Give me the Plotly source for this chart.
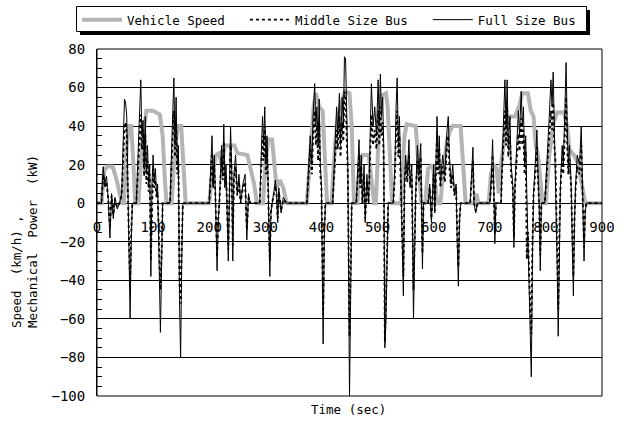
import plotly.graph_objects as go

# ---------------- data ----------------
speed_time = [0, 8, 13, 18, 28, 35, 42, 45, 48, 53, 57, 61, 65, 68, 74, 80, 88, 100, 112, 117, 121, 124,
              133, 138, 144, 150, 154, 158, 200, 205, 212, 218, 222, 228, 245, 250, 268, 274, 280, 285,
              296, 300, 305, 312, 317, 320, 326, 332, 338, 374, 380, 386, 390, 396, 402, 406, 410,
              418, 424, 430, 436, 442, 450, 454, 458, 464, 468, 473, 484, 490, 494, 497, 502, 508, 515,
              518, 522, 526, 542, 548, 552, 568, 573, 578, 585, 590, 598, 603, 606, 612, 618, 624, 630,
              634, 648, 653, 657, 672, 676, 680, 698, 702, 707, 712, 716, 720, 728, 735, 745, 752, 758,
              768, 773, 778, 782, 786, 790, 794, 800, 806, 814, 820, 832, 838, 842, 850, 858, 864, 870, 900]
vehicle_speed = [0, 0, 17, 19, 19, 12, 3, 0, 0, 30, 40, 40, 20, 0, 0, 30, 48, 48, 46, 35, 12, 0,
                 0, 25, 40, 40, 20, 0, 0, 15, 25, 26, 20, 30, 30, 26, 25, 18, 10, 0,
                 0, 20, 33, 33, 15, 8, 12, 8, 0, 0, 25, 50, 57, 50, 48, 20, 0,
                 0, 30, 47, 52, 58, 57, 40, 0, 0, 20, 25, 25, 10, 0, 0, 35, 56, 57,
                 50, 25, 0, 0, 35, 41, 40, 20, 0, 0, 18, 20, 10, 0, 0, 20, 33, 38,
                 40, 40, 20, 0, 0, 5, 0, 0, 15, 20, 18, 5, 20, 38, 45, 45, 50, 57,
                 57, 48, 45, 30, 25, 10, 0, 0, 25, 42, 47, 47, 40, 28, 25, 20, 10, 0, 0]

power_time = [0, 8, 11, 14, 17, 20, 23, 26, 29, 32, 36, 40, 44, 47, 49, 51, 53, 55, 57, 59, 61, 63,
              70, 74, 76, 78, 80, 82, 84, 86, 88, 90, 92, 94, 96, 98, 100, 102, 104, 106, 108, 111, 113,
              115, 117, 130, 133, 135, 137, 139, 141, 143, 145, 147, 149, 151, 153,
              200, 203, 205, 207, 209, 211, 214, 216, 218, 222, 224, 226, 228, 230, 232, 234, 236, 238,
              240, 242, 244, 247, 250, 253, 256, 260, 264, 267, 270, 273,
              290, 292, 295, 297, 299, 301, 303, 305, 308, 310, 312, 318, 320, 322, 324, 326, 328, 332, 338,
              374, 378, 380, 383, 385, 388, 390, 392, 394, 396, 398, 400, 403, 405, 407,
              420, 424, 427, 429, 432, 434, 437, 439, 441, 443, 445, 447, 450, 452, 454,
              462, 465, 467, 469, 471, 473, 476, 478, 481, 484,
              486, 489, 492, 495, 498, 501, 503, 505, 507, 509, 511, 513, 515, 517, 519,
              528, 531, 533, 535, 537, 539, 541, 543, 546, 548, 550, 553, 556, 558, 561, 564, 566, 568,
              571, 574, 577, 580, 582,
              590, 593, 596, 598, 600, 602, 604, 606, 608, 610, 612, 616, 620, 623, 626, 628, 631, 634,
              637, 640, 642, 644, 646, 648,
              665, 668, 670, 672, 675, 678, 700, 703, 705, 707, 709, 711,
              720, 723, 725, 727, 729, 731, 733, 736, 738, 741, 743, 745, 748, 751, 753, 756, 758, 760,
              762, 764, 766, 768, 771, 774, 776, 778, 781, 784, 786, 788, 790, 792,
              798, 803, 806, 809, 811, 813, 815, 817, 820, 822, 824, 826, 829, 831, 834, 836, 838, 840,
              842, 845, 847, 849, 851, 853, 856, 860, 863, 865, 868, 870, 872, 900]
full_bus = [0, 0, 19, 10, 14, 2, -18, 5, -8, 3, -3, 0, 5, 42, 54, 52, 45, 10, -30, -60, -20, 0,
            0, 30, 40, 64, 35, 43, 20, 45, 15, 30, 10, 20, -38, 10, 25, 12, 18, 5, 10, -30, -67,
            -35, 0, 0, 25, 45, 65, 30, 55, 20, 30, -50, -80, -30, 0,
            0, 20, 35, 10, 25, 5, -35, -10, 0, 30, 15, 41, 10, 20, -10, -30, 5, 40,
            20, -30, 15, 25, 5, 15, 0, 10, 15, -19, 5, 0,
            0, 20, 45, 30, 50, 20, 35, 10, -38, -5, 0, 12, 5, -10, 8, 3, -5, 3, 0,
            0, 25, 35, 20, 45, 62, 40, 50, 30, 54, 20, 10, -73, -20, 0,
            0, 30, 50, 35, 57, 30, 55, 40, 76, 75, 50, 20, -100, -40, 0,
            0, 20, 33, 10, 25, 0, 20, -10, 15, 0,
            30, 62, 40, 50, 35, 64, 40, 67, 45, 55, 30, -75, -60, -20, 0,
            0, 20, 50, 65, 30, 45, 20, -10, -48, 10, 25, 15, 33, 10, 20, -60, -20, 5,
            30, 15, 31, -34, 0,
            0, 10, -10, 5, 20, -5, 30, 45, 20, 35, 10, 25, 15, 35, 45, 25, 10, 20,
            5, 10, -20, -43, -10, 0,
            0, 15, 29, 0, -5, 0, 0, 15, 33, 10, -21, 0,
            0, 30, 50, 64, 40, 64, 30, 45, 20, 10, -23, 10, 30, 48, 35, 58, 40, 50,
            20, 35, 5, -20, -60, -90, -30, 5, 20, 38, 15, 0, -35, 0,
            0, 25, 45, 64, 50, 68, 40, 30, -30, -69, -20, 10, 30, 20, 50, 73, 40, 20,
            30, 10, -20, -48, -10, 10, 25, 20, 40, 15, -30, -5, 0, 0]
middle_bus = [0, 0, 15, 8, 11, 2, -12, 4, -6, 2, -2, 0, 4, 33, 40, 42, 35, 5, -25, -41, -15, 0,
              0, 24, 32, 46, 28, 38, 14, 36, 10, 22, 6, 15, -30, 6, 18, 8, 12, 3, 6, -25, -45,
              -28, 0, 0, 20, 35, 48, 24, 42, 15, 22, -40, -52, -22, 0,
              0, 16, 26, 8, 20, 3, -28, -8, 0, 24, 12, 32, 8, 15, -8, -24, 4, 30,
              15, -22, 12, 19, 4, 11, 0, 8, 11, -14, 3, 0,
              0, 15, 35, 22, 40, 15, 28, 8, -30, -4, 0, 9, 4, -8, 6, 2, -4, 2, 0,
              0, 20, 28, 15, 35, 48, 30, 40, 22, 42, 15, 8, -58, -15, 0,
              0, 24, 38, 28, 45, 24, 42, 32, 58, 55, 38, 15, -69, -30, 0,
              0, 16, 25, 8, 19, 0, 15, -8, 11, 0,
              24, 46, 30, 38, 28, 48, 30, 50, 35, 42, 22, -72, -50, -15, 0,
              0, 15, 38, 48, 24, 35, 15, -8, -38, 8, 19, 11, 25, 8, 15, -45, -15, 4,
              22, 11, 24, -26, 0,
              0, 8, -8, 4, 15, -4, 23, 35, 15, 28, 8, 19, 11, 27, 35, 19, 8, 15,
              4, 8, -16, -33, -8, 0,
              0, 11, 22, 0, -4, 0, 0, 11, 25, 8, -16, 0,
              0, 24, 38, 48, 30, 50, 24, 35, 15, 8, -18, 8, 23, 36, 27, 44, 30, 38,
              15, 27, -29, -15, -45, -68, -22, 4, 15, 29, 11, 0, -27, 0,
              0, 19, 35, 48, 38, 52, 30, 23, -23, -55, -15, 8, 23, 15, 38, 55, 30, 15,
              23, 8, -15, -38, -8, 8, 19, 15, 30, 11, -23, -4, 0, 0]

x_ticks = [0, 100, 200, 300, 400, 500, 600, 700, 800, 900]
y_ticks = [-100, -80, -60, -40, -20, 0, 20, 40, 60, 80]

MONO = "DejaVu Sans Mono"
NB = "\u00a0"

fig = go.Figure()
fig.add_trace(go.Scatter(x=speed_time, y=vehicle_speed, mode="lines", name="Vehicle Speed" + NB * 2,
                         line=dict(color="#b4b4b4", width=4)))
fig.add_trace(go.Scatter(x=power_time, y=middle_bus, mode="lines", name="Middle Size Bus" + NB * 2,
                         line=dict(color="black", width=1.8, dash="dot")))
fig.add_trace(go.Scatter(x=power_time, y=full_bus, mode="lines", name="Full Size Bus",
                         line=dict(color="black", width=1)))

W, H = 626, 428
L, R, T, B = 97, 24, 49, 32
pw, ph = W - L - R, H - T - B


def px(xp):
    return (xp - L) / pw


def py(yp):
    return (H - B - yp) / ph


fig.update_layout(
    width=W, height=H,
    margin=dict(l=L, r=R, t=T, b=B, autoexpand=False),
    paper_bgcolor="white", plot_bgcolor="white",
    showlegend=True,
    legend=dict(orientation="h", x=px(77), y=py(5), xanchor="left", yanchor="top",
                borderwidth=0, bgcolor="rgba(0,0,0,0)", itemwidth=40,
                font=dict(family=MONO, size=12.5, color="black")),
    xaxis=dict(range=[0, 900], tickvals=x_ticks, ticks="", showgrid=False, zeroline=False,
               showline=False, anchor="free", position=100 / 180,
               tickfont=dict(family=MONO, size=14, color="black"), ticklabelstandoff=14),
    yaxis=dict(range=[-100, 80], tickvals=y_ticks, showgrid=True, gridcolor="black", gridwidth=1,
               zeroline=True, zerolinecolor="black", zerolinewidth=1,
               showline=True, linecolor="black", linewidth=1,
               ticks="inside", ticklen=5, tickcolor="black",
               minor=dict(dtick=5, ticks="inside", ticklen=5, tickcolor="black", showgrid=False),
               tickfont=dict(family=MONO, size=14, color="black"), ticklabelstandoff=8),
    shapes=[
        dict(type="rect", xref="paper", yref="paper", x0=0, x1=1, y0=0, y1=1,
             line=dict(color="black", width=1)),
        # legend shadow and box
        dict(type="rect", xref="paper", yref="paper", x0=px(80), x1=px(590), y0=py(35), y1=py(10),
             fillcolor="black", line=dict(width=0), layer="above"),
        dict(type="rect", xref="paper", yref="paper", x0=px(76.5), x1=px(586.5), y0=py(31.5), y1=py(6.5),
             fillcolor="white", line=dict(color="black", width=1), layer="above"),
    ],
    annotations=[
        dict(text="Time (sec)", xref="paper", yref="paper", x=px(348), y=py(419),
             showarrow=False, font=dict(family=MONO, size=12.5, color="black")),
        dict(text="Speed\u00a0\u00a0(km/h)\u00a0,<br>Mechanical\u00a0\u00a0Power\u00a0\u00a0(kW)",
             xref="paper", yref="paper", x=px(24), y=py(242), xanchor="center", yanchor="middle",
             textangle=-90, align="left",
             showarrow=False, font=dict(family=MONO, size=12.5, color="black")),
    ],
)

fig.write_html("out.html")
